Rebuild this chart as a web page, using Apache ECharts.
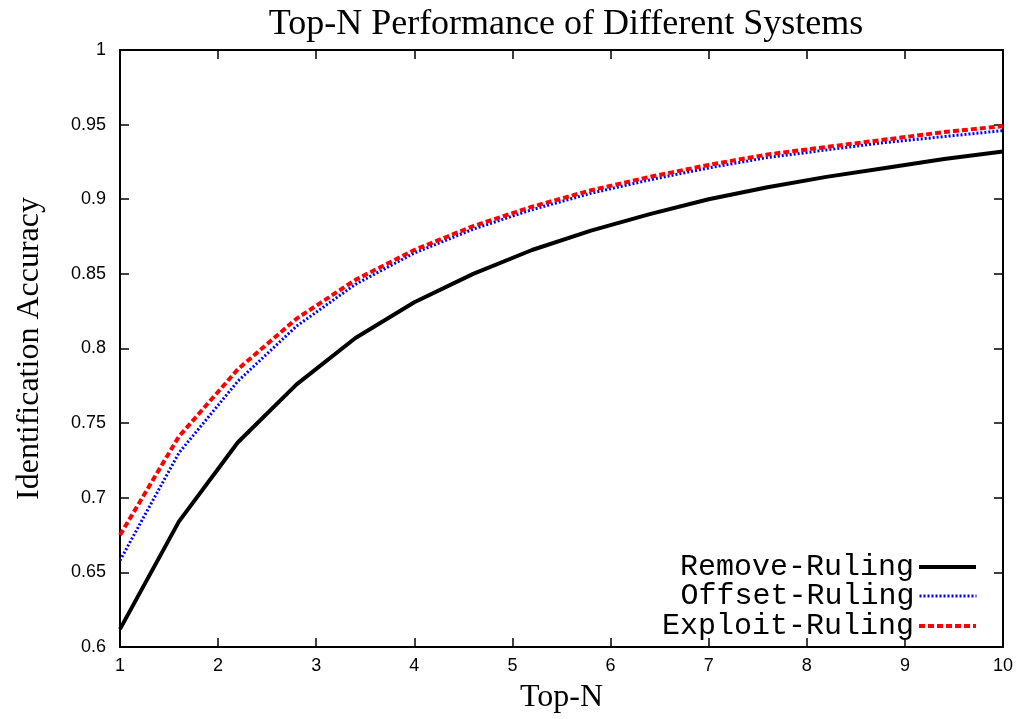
<!DOCTYPE html>
<html>
<head>
<meta charset="utf-8">
<script src="https://cdn.jsdelivr.net/npm/echarts@6/dist/echarts.min.js"></script>
<style>
  html, body { margin: 0; padding: 0; background: #fff; }
  #chart { width: 1018px; height: 719px; }
</style>
</head>
<body>
<div id="chart"></div>
<script>
// Top-N values (x) and accuracy per system
var topN = [1, 1.6, 2.2, 2.8, 3.4, 4, 4.6, 5.2, 5.8, 6.4, 7, 7.6, 8.2, 8.8, 9.4, 10];
var removeRuling = [0.612, 0.684, 0.737, 0.776, 0.807, 0.831, 0.850, 0.866, 0.879, 0.890, 0.900, 0.908, 0.915, 0.921, 0.927, 0.932];
var offsetRuling = [0.658, 0.730, 0.778, 0.815, 0.843, 0.864, 0.880, 0.893, 0.904, 0.913, 0.921, 0.928, 0.933, 0.938, 0.942, 0.946];
var exploitRuling = [0.675, 0.741, 0.786, 0.820, 0.846, 0.866, 0.882, 0.895, 0.906, 0.915, 0.923, 0.930, 0.935, 0.940, 0.945, 0.949];
var names = ["Remove-Ruling", "Offset-Ruling", "Exploit-Ruling"];

function pairs(ys) {
  return topN.map(function (x, i) { return [x, ys[i]]; });
}

var chart = echarts.init(document.getElementById("chart"));

var tickStyle = { show: true, inside: true, length: 9, lineStyle: { color: "#000", width: 1.5 } };
var lineStyleAxis = { show: true, onZero: false, lineStyle: { color: "#000", width: 2 } };
var labelFont = { color: "#000", fontFamily: "Liberation Sans", fontSize: 18 };

// one legend per series so every line sample ends at the same x
function legendAt(name, top, lineStyle) {
  return {
    data: [name],
    right: 40,
    top: top,
    itemWidth: 57,
    itemHeight: 14,
    itemGap: 13,
    align: "right",
    padding: 0,
    itemStyle: { opacity: 0 },
    lineStyle: lineStyle,
    textStyle: { fontFamily: "Liberation Mono", fontSize: 30, color: "#000" },
    selectedMode: false
  };
}

var option = {
  backgroundColor: "#fff",
  animation: false,
  title: {
    text: "Top-N Performance of Different Systems",
    left: 561,
    textAlign: "center",
    top: 2,
    textStyle: { fontFamily: "Liberation Serif", fontSize: 36, fontWeight: "normal", color: "#000" }
  },
  legend: [
    legendAt(names[0], 552, { width: 4 }),
    legendAt(names[1], 581, { width: 3 }),
    legendAt(names[2], 611, { width: 4 })
  ],
  grid: { left: 120, right: 15, top: 50, bottom: 72, outerBoundsMode: "none", containLabel: false },
  xAxis: [
    {
      type: "value",
      min: 1,
      max: 10,
      interval: 1,
      name: "Top-N",
      nameLocation: "middle",
      nameGap: 35,
      nameTextStyle: { fontFamily: "Liberation Serif", fontSize: 32, color: "#000" },
      axisLine: lineStyleAxis,
      axisTick: tickStyle,
      axisLabel: Object.assign({ margin: 10 }, labelFont),
      splitLine: { show: false }
    },
    {
      type: "value",
      position: "top",
      min: 1,
      max: 10,
      interval: 1,
      axisLine: lineStyleAxis,
      axisTick: tickStyle,
      axisLabel: { show: false },
      splitLine: { show: false }
    }
  ],
  yAxis: [
    {
      type: "value",
      min: 0.6,
      max: 1,
      interval: 0.05,
      name: "Identification Accuracy",
      nameLocation: "middle",
      nameGap: 74,
      nameTextStyle: { fontFamily: "Liberation Serif", fontSize: 32, color: "#000" },
      axisLine: lineStyleAxis,
      axisTick: tickStyle,
      axisLabel: Object.assign({
        margin: 14,
        formatter: function (v) { return String(Math.round(v * 100) / 100); }
      }, labelFont),
      splitLine: { show: false }
    },
    {
      type: "value",
      position: "right",
      min: 0.6,
      max: 1,
      interval: 0.05,
      axisLine: lineStyleAxis,
      axisTick: tickStyle,
      axisLabel: { show: false },
      splitLine: { show: false }
    }
  ],
  series: [
    {
      name: names[0],
      type: "line",
      data: pairs(removeRuling),
      symbol: "none",
      lineStyle: { color: "#000", width: 4 },
      itemStyle: { color: "#000" }
    },
    {
      name: names[1],
      type: "line",
      data: pairs(offsetRuling),
      symbol: "none",
      lineStyle: { color: "#0000ff", width: 3, type: [2, 2] },
      itemStyle: { color: "#0000ff" }
    },
    {
      name: names[2],
      type: "line",
      data: pairs(exploitRuling),
      symbol: "none",
      lineStyle: { color: "#ff0000", width: 4, type: [6, 3] },
      itemStyle: { color: "#ff0000" }
    }
  ]
};

chart.setOption(option);
</script>
</body>
</html>
